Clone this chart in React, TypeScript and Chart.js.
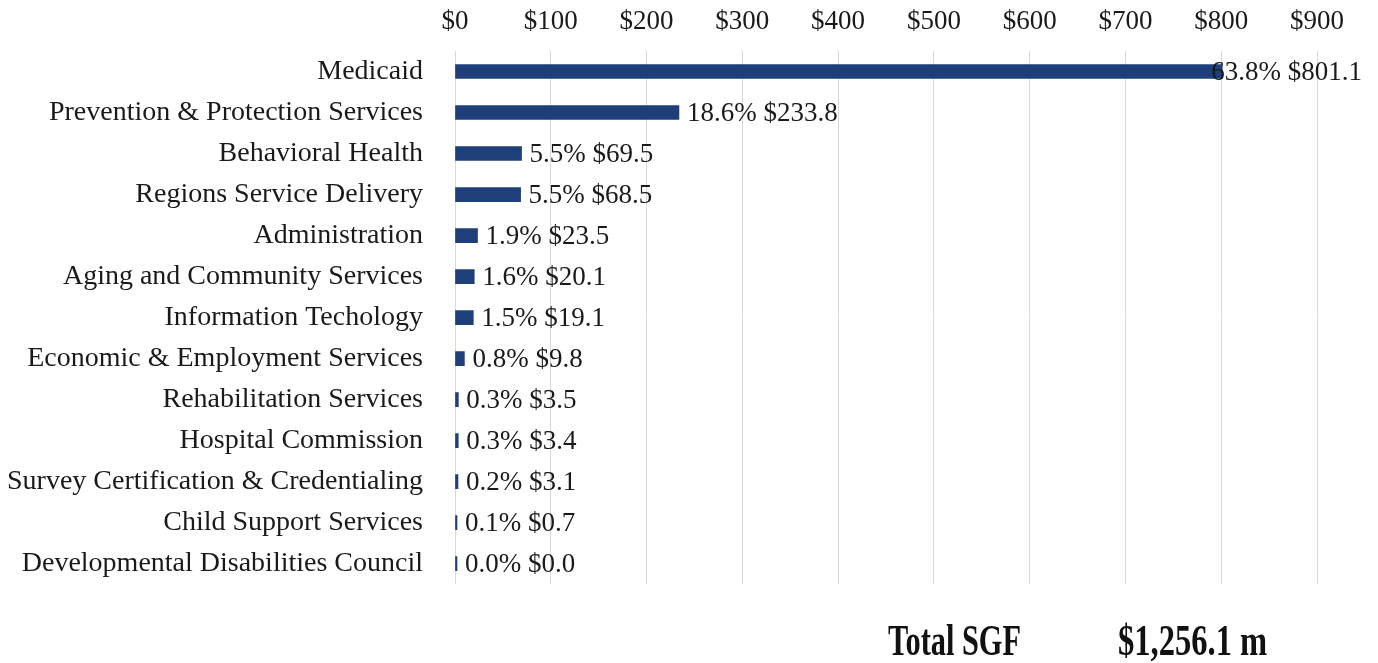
import React, { useEffect, useRef } from "react";
import { Chart, registerables } from "chart.js";

Chart.register(...registerables);

const categories = [
  "Medicaid",
  "Prevention & Protection Services",
  "Behavioral Health",
  "Regions Service Delivery",
  "Administration",
  "Aging and Community Services",
  "Information Techology",
  "Economic & Employment Services",
  "Rehabilitation Services",
  "Hospital Commission",
  "Survey Certification & Credentialing",
  "Child Support Services",
  "Developmental Disabilities Council",
];
const values = [801.1, 233.8, 69.5, 68.5, 23.5, 20.1, 19.1, 9.8, 3.5, 3.4, 3.1, 0.7, 0.0];
const percents = [63.8, 18.6, 5.5, 5.5, 1.9, 1.6, 1.5, 0.8, 0.3, 0.3, 0.2, 0.1, 0.0];
const xTicks = [0, 100, 200, 300, 400, 500, 600, 700, 800, 900];
const totalLabel = "Total SGF";
const totalValue = "$1,256.1 m";

const FONT = "'Liberation Serif', 'Times New Roman', serif";

export default function App() {
  const ref = useRef<HTMLCanvasElement | null>(null);

  useEffect(() => {
    document.body.style.margin = "0";
    const canvas = ref.current;
    if (!canvas) return;

    const labelPlugin = {
      id: "valueLabels",
      afterDatasetsDraw(chart: any) {
        const ctx = chart.ctx;
        const meta = chart.getDatasetMeta(0);
        ctx.save();
        ctx.font = `27px ${FONT}`;
        ctx.fillStyle = "#1a1a1a";
        ctx.textBaseline = "middle";
        ctx.textAlign = "left";
        meta.data.forEach((bar: any, i: number) => {
          const text = `${percents[i].toFixed(1)}% $${values[i].toFixed(1)}`;
          const w = ctx.measureText(text).width;
          let x = bar.x + 8;
          const limit = chart.width - 16;
          if (x + w > limit) x = limit - w;
          ctx.fillText(text, x, bar.y + 1);
        });
        ctx.restore();
      },
    };

    const chart = new Chart(canvas, {
      type: "bar",
      data: {
        labels: categories,
        datasets: [
          {
            data: values,
            backgroundColor: "#1f3f7a",
            barThickness: 14,
            minBarLength: 2,
          },
        ],
      },
      options: {
        indexAxis: "y",
        animation: false,
        responsive: false,
        maintainAspectRatio: false,
        layout: { padding: { left: 0, right: 61, top: 0, bottom: 0 } },
        plugins: { legend: { display: false }, tooltip: { enabled: false } },
        scales: {
          x: {
            position: "top",
            min: 0,
            max: 900,
            afterBuildTicks(scale: any) {
              scale.ticks = xTicks.map((v) => ({ value: v }));
            },
            afterFit(scale: any) {
              scale.height = 51;
            },
            ticks: {
              font: { family: FONT, size: 27 },
              color: "#1a1a1a",
              padding: 13,
              callback: (v: any) => `$${v}`,
            },
            grid: { color: "#d9d9d9", drawTicks: false, lineWidth: 1 },
            border: { display: false },
          },
          y: {
            afterFit(scale: any) {
              scale.width = 455;
            },
            ticks: {
              font: { family: FONT, size: 28 },
              color: "#1a1a1a",
              padding: 32,
              autoSkip: false,
            },
            grid: { display: false, drawTicks: false },
            border: { display: false },
          },
        },
      },
      plugins: [labelPlugin],
    });
    return () => chart.destroy();
  }, []);

  const totalStyle: React.CSSProperties = {
    position: "absolute",
    top: 616,
    fontFamily: FONT,
    fontWeight: "bold",
    fontSize: 44,
    lineHeight: "50px",
    color: "#111",
    transformOrigin: "left top",
    whiteSpace: "nowrap",
  };

  return (
    <div style={{ position: "relative", width: 1378, height: 663, background: "#fff", overflow: "hidden" }}>
      <canvas ref={ref} width={1378} height={633} style={{ display: "block", position: "absolute", left: 0, top: 0 }} />
      <div style={{ ...totalStyle, left: 888, transform: "scaleX(0.69)" }}>{totalLabel}</div>
      <div style={{ ...totalStyle, left: 1118, transform: "scaleX(0.74)" }}>{totalValue}</div>
    </div>
  );
}
